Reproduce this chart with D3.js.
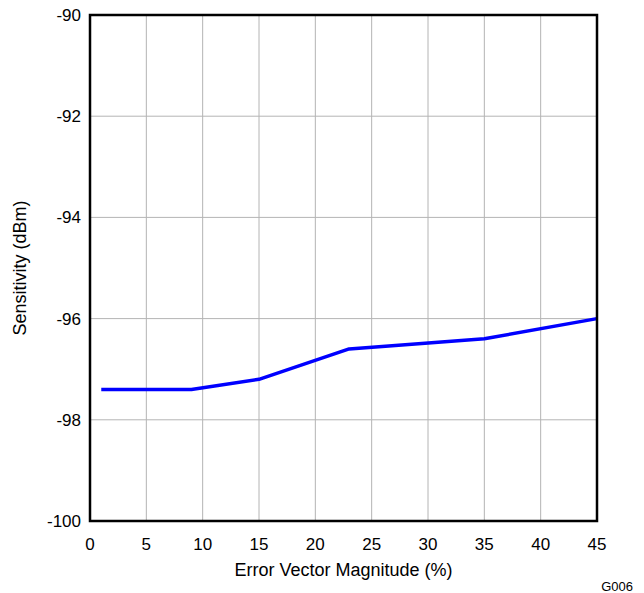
<!DOCTYPE html>
<html>
<head>
<meta charset="utf-8">
<script src="https://cdn.jsdelivr.net/npm/d3@7"></script>
<style>
  body { margin: 0; background: #fff; }
  text { font-family: "Liberation Sans", Arial, sans-serif; }
</style>
</head>
<body>
<svg id="chart" width="644" height="593"></svg>
<script>
const evm = [1, 9, 15, 23, 35, 45];
const sensitivity = [-97.4, -97.4, -97.2, -96.6, -96.4, -96.0];
const xTicks = [0, 5, 10, 15, 20, 25, 30, 35, 40, 45];
const yTicks = [-100, -98, -96, -94, -92, -90];

document.addEventListener("DOMContentLoaded", () => {
    const svg = d3.select("#chart");
    const left = 90, right = 597, top = 15, bottom = 521;

    const xScale = d3.scaleLinear().domain([0, 45]).range([left, right]);
    const yScale = d3.scaleLinear().domain([-100, -90]).range([bottom, top]);

    // grid lines
    xTicks.forEach(t => {
        svg.append("line")
            .attr("x1", xScale(t)).attr("x2", xScale(t))
            .attr("y1", top).attr("y2", bottom)
            .attr("stroke", "#b4b4b4").attr("stroke-width", 1);
    });
    yTicks.forEach(t => {
        svg.append("line")
            .attr("x1", left).attr("x2", right)
            .attr("y1", yScale(t)).attr("y2", yScale(t))
            .attr("stroke", "#b4b4b4").attr("stroke-width", 1);
    });

    // data line
    const line = d3.line()
        .x((d, i) => xScale(evm[i]))
        .y(d => yScale(d));
    svg.append("path")
        .datum(sensitivity)
        .attr("d", line)
        .attr("fill", "none")
        .attr("stroke", "#0000ff")
        .attr("stroke-width", 3.5)
        .attr("stroke-linejoin", "round");

    // frame
    svg.append("rect")
        .attr("x", left).attr("y", top)
        .attr("width", right - left).attr("height", bottom - top)
        .attr("fill", "none")
        .attr("stroke", "black")
        .attr("stroke-width", 2.5);

    // tick labels
    xTicks.forEach(t => {
        svg.append("text")
            .attr("x", xScale(t))
            .attr("y", 550)
            .attr("text-anchor", "middle")
            .attr("font-size", "17px")
            .text(t);
    });
    yTicks.forEach(t => {
        svg.append("text")
            .attr("x", left - 9)
            .attr("y", yScale(t))
            .attr("dy", "0.35em")
            .attr("text-anchor", "end")
            .attr("font-size", "17px")
            .text(t);
    });

    // axis titles
    svg.append("text")
        .attr("x", (left + right) / 2)
        .attr("y", 576)
        .attr("text-anchor", "middle")
        .attr("font-size", "18px")
        .text("Error Vector Magnitude (%)");

    svg.append("text")
        .attr("transform", `translate(26, ${(top + bottom) / 2}) rotate(-90)`)
        .attr("text-anchor", "middle")
        .attr("font-size", "18px")
        .text("Sensitivity (dBm)");

    svg.append("text")
        .attr("x", 633)
        .attr("y", 591)
        .attr("text-anchor", "end")
        .attr("font-size", "13px")
        .text("G006");
});
</script>
</body>
</html>
